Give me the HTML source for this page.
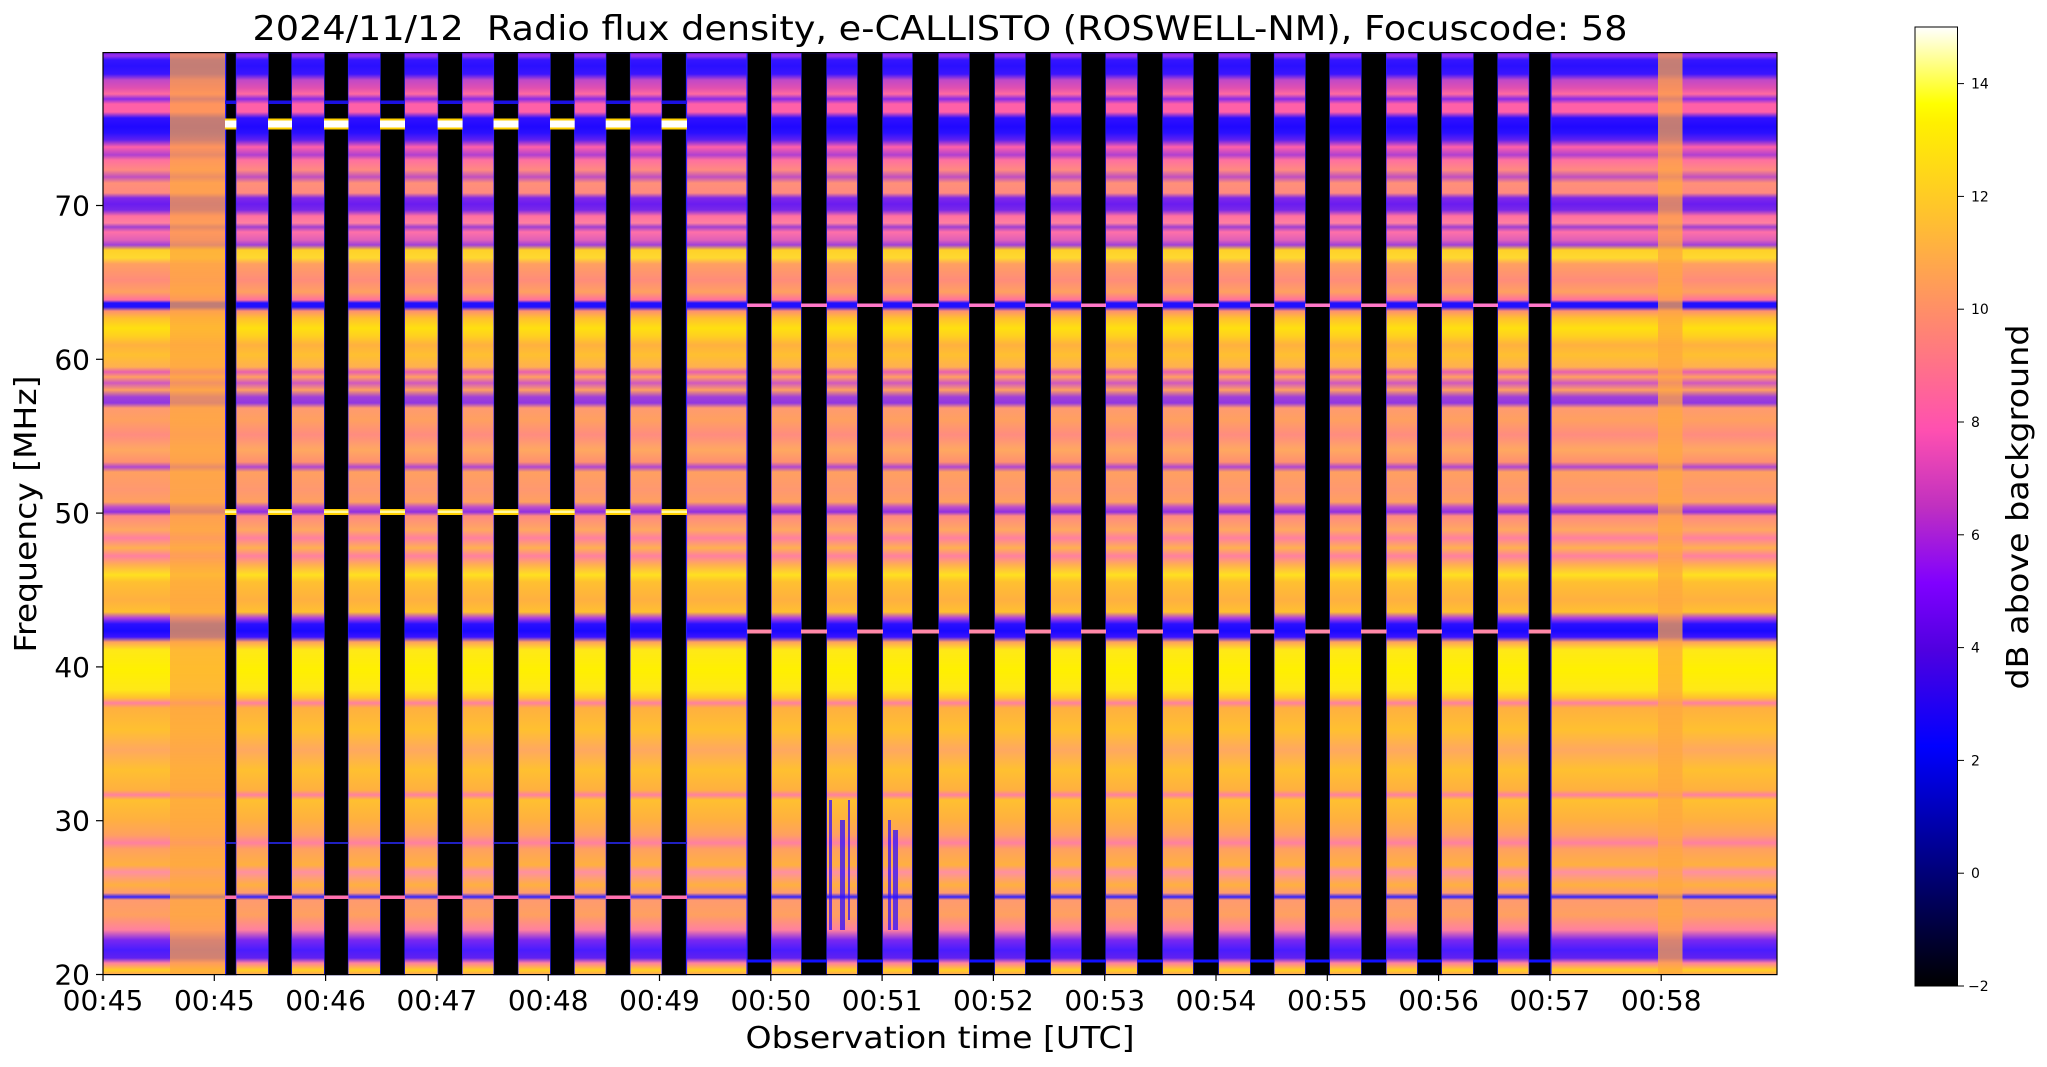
<!DOCTYPE html>
<html><head><meta charset="utf-8"><style>
html,body{margin:0;padding:0;background:#fff;}
svg{display:block;}
text{font-family:"DejaVu Sans","Liberation Sans",sans-serif;fill:#000;}
</style></head><body>
<svg width="2047" height="1067" viewBox="0 0 2047 1067" xmlns="http://www.w3.org/2000/svg">
<defs>
<linearGradient id="spec" gradientUnits="userSpaceOnUse" x1="0" y1="0" x2="0" y2="1000">
<stop offset="0.052" stop-color="#7a20f8"/><stop offset="0.056" stop-color="#9a30e8"/><stop offset="0.060" stop-color="#3515ff"/><stop offset="0.066" stop-color="#2a10ff"/><stop offset="0.074" stop-color="#3a14ff"/><stop offset="0.080" stop-color="#c048c8"/><stop offset="0.088" stop-color="#e050b0"/><stop offset="0.094" stop-color="#ff6aa0"/><stop offset="0.099" stop-color="#8a2ae8"/><stop offset="0.104" stop-color="#ff60a8"/><stop offset="0.112" stop-color="#ff60a8"/><stop offset="0.118" stop-color="#3010ff"/><stop offset="0.127" stop-color="#2008ff"/><stop offset="0.133" stop-color="#2a10ff"/><stop offset="0.140" stop-color="#6020f0"/><stop offset="0.147" stop-color="#ff60a8"/><stop offset="0.155" stop-color="#b040d0"/><stop offset="0.160" stop-color="#ff70a0"/><stop offset="0.170" stop-color="#ff8a80"/><stop offset="0.177" stop-color="#c050c0"/><stop offset="0.183" stop-color="#ff9078"/><stop offset="0.193" stop-color="#ff8a80"/><stop offset="0.198" stop-color="#8028e8"/><stop offset="0.204" stop-color="#6a1cf0"/><stop offset="0.210" stop-color="#7a28e8"/><stop offset="0.216" stop-color="#ff70a0"/><stop offset="0.223" stop-color="#ff80a0"/><stop offset="0.227" stop-color="#a040d0"/><stop offset="0.232" stop-color="#ff70a8"/><stop offset="0.240" stop-color="#e060b8"/><stop offset="0.245" stop-color="#a040d8"/><stop offset="0.250" stop-color="#ffd028"/><stop offset="0.258" stop-color="#ffd830"/><stop offset="0.264" stop-color="#ffa060"/><stop offset="0.280" stop-color="#ff8c7a"/><stop offset="0.292" stop-color="#ffa060"/><stop offset="0.300" stop-color="#ff70a0"/><stop offset="0.303" stop-color="#2010ff"/><stop offset="0.307" stop-color="#2010ff"/><stop offset="0.311" stop-color="#ff9070"/><stop offset="0.318" stop-color="#ffc030"/><stop offset="0.328" stop-color="#ffe010"/><stop offset="0.336" stop-color="#ffd020"/><stop offset="0.345" stop-color="#ffb040"/><stop offset="0.355" stop-color="#ffc030"/><stop offset="0.367" stop-color="#ffb050"/><stop offset="0.372" stop-color="#e860b0"/><stop offset="0.377" stop-color="#ffa060"/><stop offset="0.383" stop-color="#d058c0"/><stop offset="0.390" stop-color="#ffa060"/><stop offset="0.397" stop-color="#a040d8"/><stop offset="0.403" stop-color="#9038e0"/><stop offset="0.408" stop-color="#ff9a70"/><stop offset="0.420" stop-color="#ffa060"/><stop offset="0.435" stop-color="#ff8c80"/><stop offset="0.450" stop-color="#ffa860"/><stop offset="0.462" stop-color="#ff9070"/><stop offset="0.467" stop-color="#b048d0"/><stop offset="0.472" stop-color="#ffa060"/><stop offset="0.490" stop-color="#ff9870"/><stop offset="0.502" stop-color="#ffa060"/><stop offset="0.507" stop-color="#c050c8"/><stop offset="0.512" stop-color="#9030e0"/><stop offset="0.516" stop-color="#ff8a80"/><stop offset="0.530" stop-color="#ffa860"/><stop offset="0.538" stop-color="#ff80a0"/><stop offset="0.548" stop-color="#ffb050"/><stop offset="0.556" stop-color="#ff80a0"/><stop offset="0.565" stop-color="#ffb050"/><stop offset="0.575" stop-color="#ffe020"/><stop offset="0.582" stop-color="#ffc030"/><stop offset="0.600" stop-color="#ffb040"/><stop offset="0.612" stop-color="#ffc030"/><stop offset="0.618" stop-color="#b040e0"/><stop offset="0.624" stop-color="#2a10ff"/><stop offset="0.631" stop-color="#1a08ff"/><stop offset="0.637" stop-color="#3a12ff"/><stop offset="0.642" stop-color="#ffa060"/><stop offset="0.650" stop-color="#ffe818"/><stop offset="0.670" stop-color="#fff000"/><stop offset="0.690" stop-color="#ffe818"/><stop offset="0.698" stop-color="#ffc030"/><stop offset="0.703" stop-color="#ff80a0"/><stop offset="0.708" stop-color="#ffb040"/><stop offset="0.730" stop-color="#ffc030"/><stop offset="0.750" stop-color="#ffa860"/><stop offset="0.770" stop-color="#ffc030"/><stop offset="0.790" stop-color="#ffb040"/><stop offset="0.795" stop-color="#ff80a0"/><stop offset="0.800" stop-color="#ffc030"/><stop offset="0.820" stop-color="#ffb040"/><stop offset="0.835" stop-color="#ffa060"/><stop offset="0.843" stop-color="#ff80a0"/><stop offset="0.849" stop-color="#ffa060"/><stop offset="0.865" stop-color="#ffb040"/><stop offset="0.872" stop-color="#ff90a0"/><stop offset="0.885" stop-color="#ffb040"/><stop offset="0.893" stop-color="#ff9a70"/><stop offset="0.897" stop-color="#3020ff"/><stop offset="0.900" stop-color="#ff9a70"/><stop offset="0.915" stop-color="#ffa060"/><stop offset="0.930" stop-color="#ff80a0"/><stop offset="0.940" stop-color="#7a28f0"/><stop offset="0.950" stop-color="#4a1cff"/><stop offset="0.958" stop-color="#6020f0"/><stop offset="0.963" stop-color="#ff80a0"/><stop offset="0.970" stop-color="#ffd020"/><stop offset="0.975" stop-color="#ffa060"/>
</linearGradient>
<linearGradient id="cb" x1="0" y1="1" x2="0" y2="0">
<stop offset="0" stop-color="#000000"/><stop offset="0.125" stop-color="#000080"/><stop offset="0.25" stop-color="#0000ff"/><stop offset="0.35" stop-color="#4f00e0"/><stop offset="0.42" stop-color="#8000ff"/><stop offset="0.5" stop-color="#c030c0"/><stop offset="0.58" stop-color="#ff50b0"/><stop offset="0.7" stop-color="#ff8c6a"/><stop offset="0.8" stop-color="#ffc030"/><stop offset="0.9" stop-color="#fff000"/><stop offset="0.92" stop-color="#ffff00"/><stop offset="1" stop-color="#ffffff"/>
</linearGradient>
</defs>

<rect x="103" y="52.6" width="1674" height="922" fill="url(#spec)"/>
<rect x="170" y="52.6" width="55.6" height="922" fill="#ffa840" opacity="0.72"/>
<rect x="1658" y="52.6" width="24.5" height="922" fill="#ffa840" opacity="0.72"/>

<g stroke="#2a20ff" stroke-width="1.2">
<rect x="225.6" y="52.6" width="10.8" height="922" fill="#000"/>
<rect x="268" y="52.6" width="24" height="922" fill="#000"/>
<rect x="324" y="52.6" width="24.5" height="922" fill="#000"/>
<rect x="380" y="52.6" width="25" height="922" fill="#000"/>
<rect x="437.6" y="52.6" width="25" height="922" fill="#000"/>
<rect x="493.5" y="52.6" width="25" height="922" fill="#000"/>
<rect x="550" y="52.6" width="24.7" height="922" fill="#000"/>
<rect x="605.7" y="52.6" width="24.8" height="922" fill="#000"/>
<rect x="661.5" y="52.6" width="25" height="922" fill="#000"/>
</g>
<g>
<rect x="225" y="100.5" width="462" height="3.5" fill="#1a10e0"/>
<rect x="225" y="118.5" width="462" height="11" fill="#ffd000"/>
<rect x="225" y="120.5" width="462" height="7" fill="#ffffff"/>
<rect x="225" y="509" width="462" height="6" fill="#ffd000"/>
<rect x="225" y="510.5" width="462" height="2.5" fill="#fff8a0"/>
<rect x="225" y="842" width="462" height="2" fill="#2020c0"/>
<rect x="225" y="895.5" width="462" height="3.5" fill="#ff70b0"/>
</g>
<g fill="url(#spec)">
<rect x="236.4" y="52.6" width="31.6" height="922"/>
<rect x="292" y="52.6" width="32" height="922"/>
<rect x="348.5" y="52.6" width="31.5" height="922"/>
<rect x="405" y="52.6" width="32.6" height="922"/>
<rect x="462.6" y="52.6" width="30.9" height="922"/>
<rect x="518.5" y="52.6" width="31.5" height="922"/>
<rect x="574.7" y="52.6" width="31" height="922"/>
<rect x="630.5" y="52.6" width="31" height="922"/>
</g>

<g stroke="#2a20ff" stroke-width="1.2" fill="#000">
<rect x="747" y="52.6" width="24.6" height="922"/>
<rect x="801" y="52.6" width="26" height="922"/>
<rect x="857" y="52.6" width="26" height="922"/>
<rect x="912" y="52.6" width="27" height="922"/>
<rect x="969" y="52.6" width="26" height="922"/>
<rect x="1025" y="52.6" width="26" height="922"/>
<rect x="1081" y="52.6" width="25" height="922"/>
<rect x="1137" y="52.6" width="26" height="922"/>
<rect x="1193" y="52.6" width="26" height="922"/>
<rect x="1250" y="52.6" width="24.5" height="922"/>
<rect x="1305" y="52.6" width="25" height="922"/>
<rect x="1361" y="52.6" width="25.6" height="922"/>
<rect x="1417" y="52.6" width="25" height="922"/>
<rect x="1473" y="52.6" width="25" height="922"/>
<rect x="1528.6" y="52.6" width="22.4" height="922"/>
</g>
<g>
<rect x="747" y="303.5" width="804" height="3.5" fill="#ff78c8"/>
<rect x="747" y="629.5" width="804" height="4" fill="#ff88a8"/>
<rect x="747" y="959.5" width="804" height="3" fill="#1010ff"/>
</g>
<g fill="url(#spec)">
<rect x="771.6" y="52.6" width="29.4" height="922"/>
<rect x="827" y="52.6" width="30" height="922"/>
<rect x="883" y="52.6" width="29" height="922"/>
<rect x="939" y="52.6" width="30" height="922"/>
<rect x="995" y="52.6" width="30" height="922"/>
<rect x="1051" y="52.6" width="30" height="922"/>
<rect x="1106" y="52.6" width="31" height="922"/>
<rect x="1163" y="52.6" width="30" height="922"/>
<rect x="1219" y="52.6" width="31" height="922"/>
<rect x="1274.5" y="52.6" width="30.5" height="922"/>
<rect x="1330" y="52.6" width="31" height="922"/>
<rect x="1386.6" y="52.6" width="30.4" height="922"/>
<rect x="1442" y="52.6" width="31" height="922"/>
<rect x="1498" y="52.6" width="30.6" height="922"/>
</g>
<g fill="#3010ff" opacity="0.75">
<rect x="829" y="800" width="3" height="130"/><rect x="840" y="820" width="5" height="110"/><rect x="848" y="800" width="2" height="120"/>
<rect x="888" y="820" width="3" height="110"/><rect x="893" y="830" width="5" height="100"/>
</g>

<rect x="103" y="52.6" width="1674" height="922" fill="none" stroke="#000" stroke-width="1.2"/>

<g stroke="#000" stroke-width="1.2">
<line x1="96" y1="974.5" x2="103" y2="974.5"/><line x1="96" y1="820.7" x2="103" y2="820.7"/><line x1="96" y1="666.9" x2="103" y2="666.9"/><line x1="96" y1="513.1" x2="103" y2="513.1"/><line x1="96" y1="359.3" x2="103" y2="359.3"/><line x1="96" y1="205.5" x2="103" y2="205.5"/>
</g>
<g font-size="28" text-anchor="end">
<text x="90" y="984.5">20</text><text x="90" y="830.7">30</text><text x="90" y="676.9">40</text><text x="90" y="523.1">50</text><text x="90" y="369.3">60</text><text x="90" y="215.5">70</text>
</g>
<g stroke="#000" stroke-width="1.2">
<line x1="103" y1="974.5" x2="103" y2="981"/><line x1="214.3" y1="974.5" x2="214.3" y2="981"/><line x1="325.6" y1="974.5" x2="325.6" y2="981"/><line x1="436.9" y1="974.5" x2="436.9" y2="981"/><line x1="548.2" y1="974.5" x2="548.2" y2="981"/><line x1="659.5" y1="974.5" x2="659.5" y2="981"/><line x1="770.8" y1="974.5" x2="770.8" y2="981"/><line x1="882.1" y1="974.5" x2="882.1" y2="981"/><line x1="993.4" y1="974.5" x2="993.4" y2="981"/><line x1="1104.7" y1="974.5" x2="1104.7" y2="981"/><line x1="1216" y1="974.5" x2="1216" y2="981"/><line x1="1327.3" y1="974.5" x2="1327.3" y2="981"/><line x1="1438.6" y1="974.5" x2="1438.6" y2="981"/><line x1="1549.9" y1="974.5" x2="1549.9" y2="981"/><line x1="1661.2" y1="974.5" x2="1661.2" y2="981"/>
</g>
<g font-size="28" text-anchor="middle">
<text x="103" y="1010">00:45</text><text x="214.3" y="1010">00:45</text><text x="325.6" y="1010">00:46</text><text x="436.9" y="1010">00:47</text><text x="548.2" y="1010">00:48</text><text x="659.5" y="1010">00:49</text><text x="770.8" y="1010">00:50</text><text x="882.1" y="1010">00:51</text><text x="993.4" y="1010">00:52</text><text x="1104.7" y="1010">00:53</text><text x="1216" y="1010">00:54</text><text x="1327.3" y="1010">00:55</text><text x="1438.6" y="1010">00:56</text><text x="1549.9" y="1010">00:57</text><text x="1661.2" y="1010">00:58</text>
</g>
<text x="940" y="1048" font-size="30" text-anchor="middle" textLength="389" lengthAdjust="spacingAndGlyphs">Observation time [UTC]</text>
<text transform="translate(36,514) rotate(-90)" font-size="30" text-anchor="middle" textLength="277" lengthAdjust="spacingAndGlyphs">Frequency [MHz]</text>
<text x="940" y="40" font-size="34" text-anchor="middle" textLength="1375" lengthAdjust="spacingAndGlyphs">2024/11/12&#160; Radio flux density, e-CALLISTO (ROSWELL-NM), Focuscode: 58</text>

<rect x="1915" y="27" width="42.5" height="959" fill="url(#cb)" stroke="#000" stroke-width="1"/>
<g stroke="#000" stroke-width="1">
<line x1="1957.5" y1="986" x2="1964" y2="986"/><line x1="1957.5" y1="873.2" x2="1964" y2="873.2"/><line x1="1957.5" y1="760.4" x2="1964" y2="760.4"/><line x1="1957.5" y1="647.6" x2="1964" y2="647.6"/><line x1="1957.5" y1="534.8" x2="1964" y2="534.8"/><line x1="1957.5" y1="422" x2="1964" y2="422"/><line x1="1957.5" y1="309.2" x2="1964" y2="309.2"/><line x1="1957.5" y1="196.4" x2="1964" y2="196.4"/><line x1="1957.5" y1="83.6" x2="1964" y2="83.6"/>
</g>
<g font-size="14">
<text x="1968" y="991">−2</text><text x="1971" y="878.2">0</text><text x="1971" y="765.4">2</text><text x="1971" y="652.6">4</text><text x="1971" y="539.8">6</text><text x="1971" y="427">8</text><text x="1971" y="314.2">10</text><text x="1971" y="201.4">12</text><text x="1971" y="88.6">14</text>
</g>
<text transform="translate(2028,507) rotate(-90)" font-size="30" text-anchor="middle" textLength="365" lengthAdjust="spacingAndGlyphs">dB above background</text>
</svg>
</body></html>
